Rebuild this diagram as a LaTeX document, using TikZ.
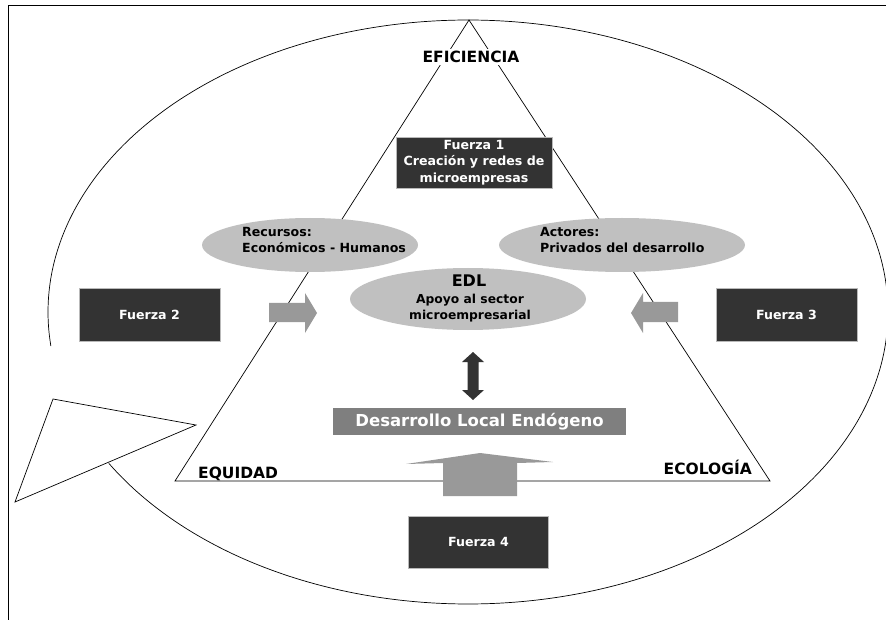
\documentclass[tikz,border=0pt]{standalone}
\usepackage{fontspec}
\setmainfont{DejaVu Sans}
\usetikzlibrary{shapes.geometric}
\definecolor{darkfill}{HTML}{333333}
\definecolor{lightell}{HTML}{C0C0C0}
\definecolor{arrowgray}{HTML}{999999}
\definecolor{boxgray}{HTML}{7F7F7F}
\begin{document}
\begin{tikzpicture}[x=1pt,y=-1pt,
  thinline/.style={draw=black, line width=0.7pt},
  darkbox/.style={rectangle, fill=darkfill, draw=gray!55, line width=0.8pt, text=white,
    font=\bfseries\fontsize{12.6}{16.5}\selectfont, align=center, inner sep=0pt},
  grayell/.style={ellipse, fill=lightell, inner sep=0pt},
  elltext/.style={anchor=base west, inner sep=0pt, font=\bfseries\fontsize{12.6}{15}\selectfont},
  cornerlabel/.style={inner sep=0pt, font=\bfseries\fontsize{15.5}{18}\selectfont},
  blockarrow/.style={fill=arrowgray},
  darkarrow/.style={fill=darkfill}]
\useasboundingbox (0,0) rectangle (886,620);
% frame
\draw[line width=0.9pt] (8,620) -- (8,5) -- (886,5);
% callout ellipse
\draw[thinline] plot[domain=173.3:508.8, samples=300, smooth] ({468+420*cos(\x)},{312+292*sin(\x)});
\draw[thinline] (53,399) -- (196,425) -- (15,502) -- cycle;
% triangle
\coordinate (apex) at (469,20);
\coordinate (bl) at (175,481);
\coordinate (br) at (770,481);
\draw[thinline] (apex) -- (bl) -- (br) -- cycle;
% labels of triangle corners
\node[cornerlabel, fill=white, inner sep=2pt, anchor=base] (efi) at (471,63) {EFICIENCIA};
\node[cornerlabel, anchor=base west] (equ) at (198,478) {EQUIDAD};
\node[cornerlabel, anchor=base east] (eco) at (752,474) {ECOLOGÍA};
% ellipses
\node[grayell, minimum width=216pt, minimum height=54pt] (rec) at (310,245) {};
\node[elltext] (rec1) at (242,237) {Recursos:};
\node[elltext] (rec2) at (242,253) {Económicos - Humanos};
\node[grayell, minimum width=246pt, minimum height=54pt] (act) at (622,245) {};
\node[elltext] (act1) at (540,237) {Actores:};
\node[elltext] (act2) at (540,253) {Privados del desarrollo};
\node[grayell, minimum width=236pt, minimum height=62pt] (edl) at (468,299) {};
\node[inner sep=0pt, font=\bfseries\fontsize{16}{18}\selectfont] (edlt) at (469,281) {EDL};
\node[inner sep=0pt, font=\bfseries\fontsize{12.3}{15}\selectfont] (edl1) at (470,300) {Apoyo al sector};
\node[inner sep=0pt, font=\bfseries\fontsize{12.3}{15}\selectfont] (edl2) at (470,316) {microempresarial};
% dark boxes
\node[darkbox, minimum width=156pt, minimum height=51pt] (f1) at (474,162.5) {Fuerza 1\\Creación y redes de\\microempresas};
\node[darkbox, minimum width=141pt, minimum height=53pt] (f2) at (149.5,314.5) {Fuerza 2};
\node[darkbox, minimum width=141pt, minimum height=53pt] (f3) at (786.5,314.5) {Fuerza 3};
\node[darkbox, minimum width=140pt, minimum height=52pt] (f4) at (478.5,542) {Fuerza 4};
% desarrollo box
\node[rectangle, fill=boxgray, text=white, inner sep=0pt, minimum width=293pt, minimum height=27pt,
  font=\bfseries\fontsize{16.5}{18}\selectfont] (del) at (479.5,421.5) {Desarrollo Local Endógeno};
% block arrows
\fill[blockarrow] (269,303) -- (305,303) -- (305,293) -- (317,313) -- (305,333) -- (305,322) -- (269,322) -- cycle;
\fill[blockarrow] (678,302) -- (643,302) -- (643,293) -- (631,313) -- (643,333) -- (643,322) -- (678,322) -- cycle;
\fill[blockarrow] (443,496) -- (443,463) -- (406,464) -- (480,453) -- (553,462) -- (517,463) -- (517,496) -- cycle;
% double arrow between EDL and Desarrollo
\fill[darkarrow] (467.5,362) -- (462,362) -- (473,352) -- (484,362) -- (478.5,362) -- (478.5,390) -- (484,390) -- (473,400) -- (462,390) -- (467.5,390) -- cycle;
\end{tikzpicture}
\end{document}
